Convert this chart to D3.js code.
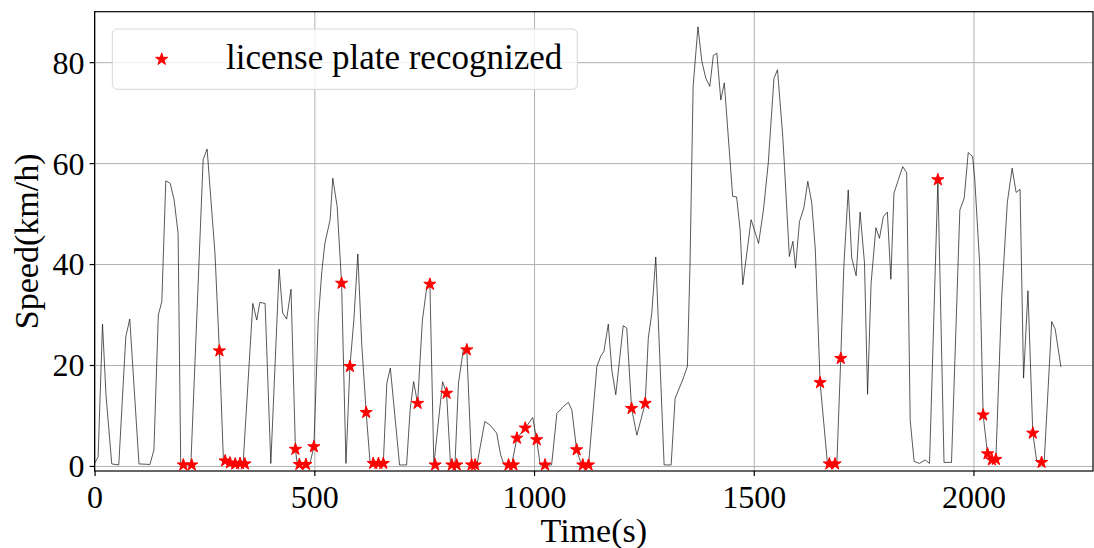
<!DOCTYPE html>
<html>
<head>
<meta charset="utf-8">
<script src="https://cdn.jsdelivr.net/npm/d3@7"></script>
<style>
  html, body { margin: 0; padding: 0; background: #fff; }
  svg { display: block; font-family: "Liberation Serif", "Times New Roman", serif; }
</style>
</head>
<body>
<svg id="chart" width="1094" height="548"></svg>
<script>
// speed trace
const timeSec = [0, 8, 18, 26, 39, 55, 71, 80, 101, 126, 135, 145, 153, 162, 172, 181, 190, 196, 219, 247, 256, 274, 284, 293, 300, 338, 360, 369, 376, 388, 401, 420, 428, 437, 447, 457, 461, 490, 499, 509, 517, 524, 536, 542, 552, 562, 572, 581, 590, 599, 608, 618, 627, 657, 665, 673, 694, 710, 718, 726, 735, 746, 756, 763, 772, 792, 801, 810, 820, 828, 839, 847, 858, 870, 888, 900, 915, 924, 932, 949, 961, 980, 997, 1006, 1014, 1040, 1052, 1067, 1078, 1086, 1097, 1108, 1124, 1143, 1152, 1159, 1169, 1177, 1186, 1203, 1211, 1222, 1234, 1253, 1260, 1268, 1277, 1296, 1312, 1321, 1338, 1349, 1355, 1362, 1373, 1382, 1391, 1400, 1408, 1416, 1425, 1433, 1452, 1461, 1469, 1475, 1494, 1511, 1522, 1533, 1546, 1554, 1566, 1570, 1581, 1589, 1595, 1604, 1614, 1623, 1632, 1640, 1651, 1668, 1689, 1698, 1705, 1715, 1723, 1733, 1742, 1752, 1759, 1767, 1778, 1786, 1795, 1804, 1812, 1819, 1829, 1839, 1848, 1856, 1865, 1877, 1890, 1900, 1919, 1933, 1950, 1969, 1979, 1988, 1998, 2003, 2014, 2022, 2032, 2042, 2051, 2064, 2077, 2088, 2097, 2106, 2114, 2124, 2135, 2144, 2161, 2178, 2186, 2199];
const speedKmh = [0.5, 1.8, 28.1, 14, 0.4, 0.2, 25.6, 29.1, 0.4, 0.3, 3.2, 29.9, 32.6, 56.5, 56, 52.7, 46.1, 0.2, 0.2, 60.7, 62.8, 42, 22.8, 1.5, 0.6, 0.5, 32.2, 28.9, 32.4, 32.2, 0.5, 39, 30.3, 29.1, 35, 3.3, 0.5, 0.5, 3.8, 28.9, 38.5, 44.1, 48.8, 57, 51.4, 36.2, 0.5, 19.7, 28.9, 42, 24, 10.6, 0.5, 0.5, 16.4, 19.4, 0.2, 0.2, 11.1, 16.7, 12.4, 28.9, 35.5, 36.2, 0.2, 16.7, 14.4, 0.2, 0.2, 16.4, 23, 23, 0.2, 0.2, 8.8, 8.1, 6.5, 2.2, 0.2, 0.2, 5.5, 7.5, 9.6, 5.2, 0.2, 0.2, 10.4, 11.8, 12.6, 11.1, 3.2, 0.2, 0.2, 19.7, 21.8, 22.7, 28.1, 19, 14.1, 27.8, 27.3, 11.4, 6.1, 12.4, 25.3, 30.3, 41.4, 0.2, 0.2, 13.4, 17, 19.7, 40.2, 75.2, 87, 80.1, 76.8, 75.2, 81.3, 81.8, 72.5, 75.9, 53.4, 53.3, 46.8, 35.9, 48.8, 44.1, 50.7, 60, 76.8, 78.5, 65.3, 59.3, 41.5, 44.5, 39.2, 48.4, 51.1, 56.4, 52.1, 43, 16.5, 0.2, 0.2, 21.3, 39.5, 54.7, 41.2, 37.7, 50.3, 40.2, 14.2, 36.2, 47.2, 45.1, 49.4, 50.3, 37, 54, 56.7, 59.3, 58.1, 9, 0.9, 0.5, 1.2, 0.5, 56.7, 0.7, 0.7, 50.7, 53.1, 62.1, 61.3, 56.7, 40.2, 10.1, 2.4, 0.9, 1.3, 33, 52.2, 59, 54.2, 54.8, 17.4, 34.7, 6.5, 0.9, 0.9, 28.6, 27.1, 19.6];

// moments where the plate was recognized
const plateTime = [202, 221, 284, 297, 308, 320, 331, 342, 457, 466, 481, 499, 562, 581, 618, 634, 646, 657, 735, 763, 775, 801, 813, 824, 847, 858, 866, 942, 953, 961, 980, 1006, 1025, 1097, 1111, 1124, 1222, 1253, 1651, 1672, 1685, 1698, 1919, 2022, 2032, 2042, 2051, 2135, 2155];
const plateSpeed = [0.2, 0.2, 22.8, 1.0, 0.6, 0.4, 0.5, 0.4, 3.3, 0.3, 0.3, 3.8, 36.2, 19.7, 10.6, 0.5, 0.5, 0.5, 12.4, 36, 0.2, 14.4, 0.2, 0.2, 23, 0.2, 0.2, 0.2, 0.2, 5.5, 7.5, 5.2, 0.2, 3.2, 0.2, 0.2, 11.4, 12.4, 16.5, 0.4, 0.4, 21.3, 56.7, 10.1, 2.4, 1.2, 1.3, 6.5, 0.7];

const xTicks = [0, 500, 1000, 1500, 2000];
const yTicks = [0, 20, 40, 60, 80];

let svg = d3.select('#chart'),
    box = { left: 94.6, right: 1093, top: 11.7, bottom: 471 },
    w = box.right - box.left,
    h = box.bottom - box.top;

let x = d3.scaleLinear().domain([0, 2272]).range([box.left, box.right]);
let y = d3.scaleLinear().domain([-1, 90]).range([box.bottom, box.top]);

// grid
svg.append('g')
    .attr('transform', 'translate(0,' + box.bottom + ')')
    .call(d3.axisBottom(x).tickValues(xTicks).tickSize(-h).tickFormat(''))
    .call(g => g.select('.domain').remove())
    .selectAll('line').attr('stroke', '#b0b0b0').attr('stroke-width', 1);
svg.append('g')
    .attr('transform', 'translate(' + box.left + ',0)')
    .call(d3.axisLeft(y).tickValues(yTicks).tickSize(-w).tickFormat(''))
    .call(g => g.select('.domain').remove())
    .selectAll('line').attr('stroke', '#b0b0b0').attr('stroke-width', 1);

// speed line
let pts = timeSec.map((t, i) => [t, speedKmh[i]]);
svg.append('path')
    .datum(pts)
    .attr('fill', 'none')
    .attr('stroke', '#111')
    .attr('stroke-width', 0.7)
    .attr('d', d3.line().x(d => x(d[0])).y(d => y(d[1])));

// stars
let star = d3.symbol().type(d3.symbolStar).size(46);
svg.append('g').selectAll('path')
    .data(plateTime.map((t, i) => [t, plateSpeed[i]]))
    .enter().append('path')
    .attr('d', star)
    .attr('transform', d => 'translate(' + x(d[0]) + ',' + y(d[1]) + ')')
    .attr('fill', 'red')
    .attr('stroke', 'red')
    .attr('stroke-width', 1);

// frame
svg.append('rect')
    .attr('x', box.left).attr('y', box.top)
    .attr('width', w).attr('height', h)
    .attr('fill', 'none').attr('stroke', '#000').attr('stroke-width', 1.2);

// axes
let xAxis = svg.append('g')
    .attr('transform', 'translate(0,' + box.bottom + ')')
    .call(d3.axisBottom(x).tickValues(xTicks).tickFormat(d3.format('d')).tickSize(5).tickSizeOuter(0).tickPadding(4));
xAxis.select('.domain').remove();
xAxis.selectAll('line').attr('stroke', '#000').attr('stroke-width', 1.2);
xAxis.selectAll('text')
    .attr('font-family', '"Liberation Serif", serif')
    .attr('font-size', 32).attr('fill', '#000')
    .attr('dy', null).attr('y', 37);

let yAxis = svg.append('g')
    .attr('transform', 'translate(' + box.left + ',0)')
    .call(d3.axisLeft(y).tickValues(yTicks).tickFormat(d3.format('d')).tickSize(5).tickSizeOuter(0).tickPadding(5));
yAxis.select('.domain').remove();
yAxis.selectAll('line').attr('stroke', '#000').attr('stroke-width', 1.2);
yAxis.selectAll('text')
    .attr('font-family', '"Liberation Serif", serif')
    .attr('font-size', 32).attr('fill', '#000')
    .attr('dy', '0.34em');

// labels
svg.append('text')
    .attr('x', (box.left + box.right) / 2).attr('y', 542)
    .attr('text-anchor', 'middle').attr('font-size', 34)
    .text('Time(s)');
svg.append('text')
    .attr('transform', 'translate(38,' + (box.top + box.bottom) / 2 + ') rotate(-90)')
    .attr('text-anchor', 'middle').attr('font-size', 34)
    .text('Speed(km/h)');

// legend
let legend = svg.append('g');
legend.append('rect')
    .attr('x', 112.3).attr('y', 29).attr('width', 465).attr('height', 60.3)
    .attr('rx', 5).attr('fill', 'rgba(255,255,255,0.8)')
    .attr('stroke', '#d6d6d6').attr('stroke-width', 1);
legend.append('path')
    .attr('d', star)
    .attr('transform', 'translate(161.7,59.3)')
    .attr('fill', 'red').attr('stroke', 'red').attr('stroke-width', 1);
legend.append('text')
    .attr('x', 226).attr('y', 69)
    .attr('font-size', 35)
    .text('license plate recognized');
</script>
</body>
</html>
